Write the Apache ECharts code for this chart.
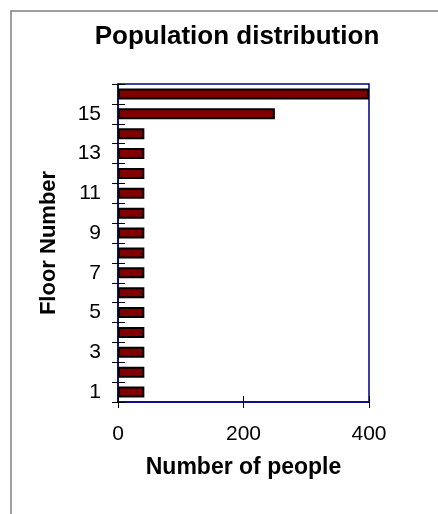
<!DOCTYPE html>
<html>
<head>
<meta charset="utf-8">
<script src="https://cdn.jsdelivr.net/npm/echarts@6/dist/echarts.min.js"></script>
<style>html,body{margin:0;padding:0;background:#fff}#c{width:438px;height:514px}</style>
</head>
<body>
<div id="c"></div>
<script>
const floors = ['1','2','3','4','5','6','7','8','9','10','11','12','13','14','15','16'];
const people = [42,42,42,42,42,42,42,42,42,42,42,42,42,42,250,400];
const xTicks = {min: 0, max: 400, interval: 200};
const titleText = 'Population distribution';
const xName = 'Number of people';
const yName = 'Floor Number';

const chart = echarts.init(document.getElementById('c'), null, {renderer: 'canvas'});
const font = 'Liberation Sans, Arial, sans-serif';
chart.setOption({
  animation: false,
  backgroundColor: '#fff',
  title: {
    text: titleText, left: 232, top: 19, textAlign: 'center',
    textStyle: {fontFamily: font, fontSize: 26, fontWeight: 'bold', color: '#000'}
  },
  grid: {left: 118, right: 69, top: 84, bottom: 112, show: true, borderColor: '#000080', borderWidth: 1.5, backgroundColor: 'transparent'},
  xAxis: [{
    type: 'value', min: xTicks.min, max: xTicks.max, interval: xTicks.interval,
    name: xName, nameLocation: 'middle', nameGap: 54,
    nameTextStyle: {fontFamily: font, fontSize: 23, fontWeight: 'bold', color: '#000'},
    axisLine: {show: true, lineStyle: {color: '#000080', width: 1.5}},
    axisTick: {show: true, inside: false, length: 6, lineStyle: {color: '#000', width: 1}},
    axisLabel: {fontFamily: font, fontSize: 21, color: '#000', margin: 22},
    splitLine: {show: false}
  }, {
    type: 'value', min: xTicks.min, max: xTicks.max, interval: xTicks.interval, position: 'bottom',
    axisLine: {show: false},
    axisTick: {show: true, inside: true, length: 6, lineStyle: {color: '#000', width: 1}},
    axisLabel: {show: false}, splitLine: {show: false}
  }],
  yAxis: [{
    type: 'category', data: floors,
    name: yName, nameLocation: 'middle', nameGap: 58,
    nameTextStyle: {fontFamily: font, fontSize: 22, fontWeight: 'bold', color: '#000'},
    axisLine: {show: true, lineStyle: {color: '#000080', width: 1.5}},
    axisTick: {show: true, inside: false, length: 6, alignWithLabel: false, interval: 0, lineStyle: {color: '#000', width: 1}},
    axisLabel: {fontFamily: font, fontSize: 21, color: '#000', margin: 17, interval: 1},
    splitLine: {show: false}
  }, {
    type: 'category', data: floors, position: 'left',
    axisLine: {show: false},
    axisTick: {show: true, inside: true, length: 7, alignWithLabel: false, interval: 0, lineStyle: {color: '#000', width: 1}},
    axisLabel: {show: false}, splitLine: {show: false}
  }],
  series: [{
    type: 'bar', data: people, xAxisIndex: 0, yAxisIndex: 0,
    barWidth: 11,
    itemStyle: {color: '#800000', borderColor: '#000', borderWidth: 2}
  }],
  graphic: [{
    type: 'polyline', silent: true,
    shape: {points: [[11, 514], [11, 11], [438, 11]]},
    style: {stroke: '#808080', lineWidth: 1.5, fill: null}
  }]
});
</script>
</body>
</html>
